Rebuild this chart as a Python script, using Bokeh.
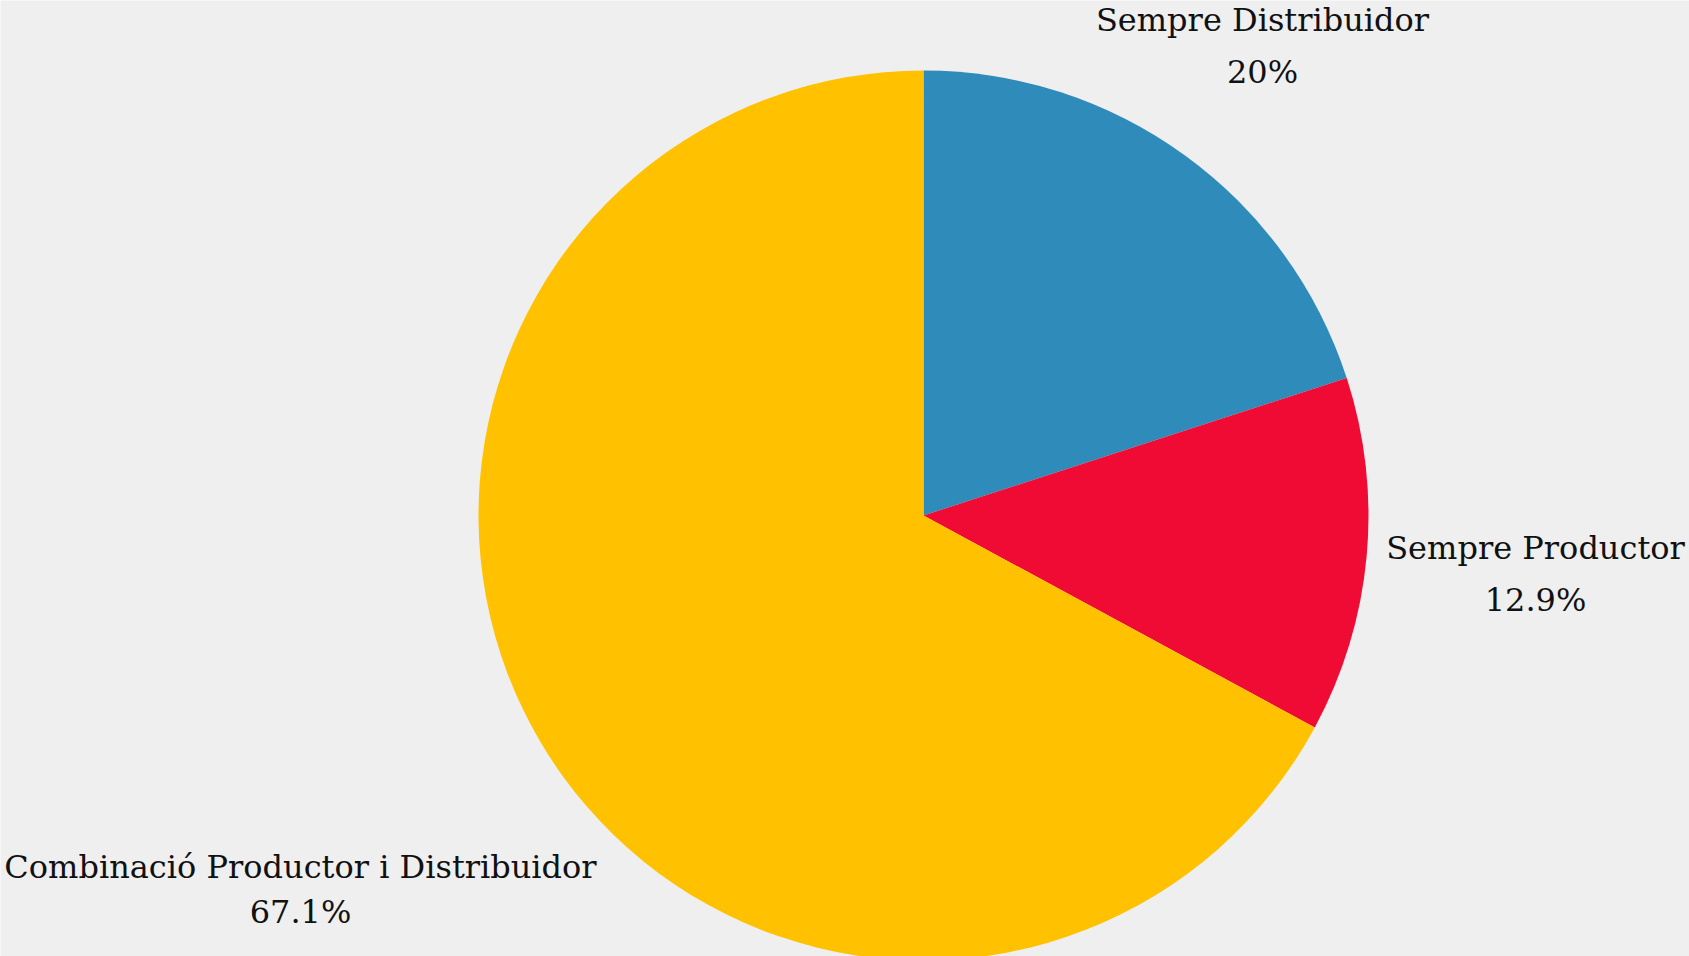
import math
from bokeh.plotting import figure
from bokeh.models import Range1d, ColumnDataSource
from bokeh.core.properties import value
from bokeh.embed import file_html
from bokeh.resources import INLINE

# ---- data ----
categories = ["Sempre Distribuidor", "Sempre Productor", "Combinació Productor i Distribuidor"]
shares = [20.0, 12.9, 67.1]
pct_labels = ["20%", "12.9%", "67.1%"]
colors = ["#2E8BBA", "#EF0B34", "#FFC100"]

# ---- layout constants (pixels) ----
W, H = 1689, 956
CX, CY, R = 923, H - 515, 445
# label block anchors: (center x, first-line y from top, second-line y from top)
label_pos = [(1262, 19, 71), (1535, 547, 599), (300, 866, 911)]
FONT = "DejaVu Serif"
FSIZE = "32px"

total = sum(shares)
starts, ends = [], []
a = math.pi / 2
for s in shares:
    sweep = 2 * math.pi * s / total
    ends.append(a)
    starts.append(a - sweep)
    a -= sweep

src = ColumnDataSource(dict(cat=categories, start=starts, end=ends, color=colors))

p = figure(width=W, height=H, output_backend="svg", toolbar_location=None,
           x_range=Range1d(0, W), y_range=Range1d(0, H),
           x_axis_type=None, y_axis_type=None, min_border=0,
           background_fill_color="#EFEFEF", border_fill_color="#EFEFEF")
p.outline_line_color = None
p.grid.visible = False

p.wedge(x=CX, y=CY, radius=R, start_angle="start", end_angle="end",
        fill_color="color", line_color=None, source=src)

lx = [pos[0] for pos in label_pos]
ly1 = [H - pos[1] for pos in label_pos]
ly2 = [H - pos[2] for pos in label_pos]
p.text(x=lx, y=ly1, text=categories, text_font=value(FONT), text_font_size=FSIZE,
       text_align="center", text_baseline="alphabetic", text_color="#111111")
p.text(x=lx, y=ly2, text=pct_labels, text_font=value(FONT), text_font_size=FSIZE,
       text_align="center", text_baseline="alphabetic", text_color="#111111")

open("out.html", "w").write(file_html(p, INLINE))
